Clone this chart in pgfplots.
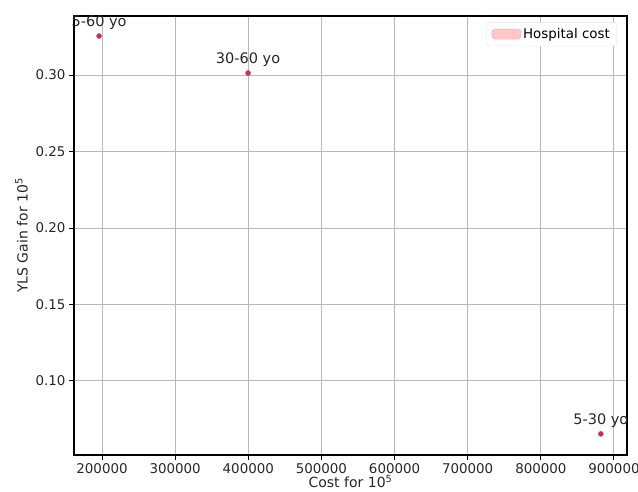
\documentclass[border=0pt]{standalone}
\usepackage{fontspec}
\setmainfont{DejaVu Sans}
\usepackage{pgfplots}
\pgfplotsset{compat=1.18}
\definecolor{ptcol}{RGB}{200,50,80}
\definecolor{gridc}{RGB}{184,184,184}
\begin{document}
\begin{tikzpicture}[font=\fontsize{13.4bp}{16bp}\selectfont]
\begin{axis}[
  at={(0,0)}, anchor=south west,
  scale only axis, width=553bp, height=439bp,
  xmin=161700, xmax=917800, ymin=0.0516, ymax=0.3386,
  xtick={200000,300000,400000,500000,600000,700000,800000,900000},
  ytick={0.10,0.15,0.20,0.25,0.30},
  scaled x ticks=false, scaled y ticks=false,
  xticklabels={200000,300000,400000,500000,600000,700000,800000,900000},
  yticklabels={0.10,0.15,0.20,0.25,0.30},
  tick label style={font=\fontsize{13.4bp}{16bp}\selectfont, text=black!85},
  label style={font=\fontsize{14bp}{16bp}\selectfont, text=black!85},
  xlabel={Cost for 10\textsuperscript{5}},
  ylabel={YLS Gain for 10\textsuperscript{5}},
  xlabel style={yshift=5bp},
  ylabel style={yshift=1bp},
  grid=major,
  major grid style={gridc, line width=1bp},
  axis line style={black, line width=1.4bp},
  tick align=outside, xtick pos=bottom, ytick pos=left,
  major tick length=5bp,
  tick style={black, line width=1bp},
  legend style={at={(0.982,0.986)}, anchor=north east, draw=black!12, rounded corners=3bp,
    fill=white, font=\fontsize{13.4bp}{16bp}\selectfont, inner xsep=5bp, inner ysep=4bp,
    /tikz/every even column/.append style={column sep=5bp}},
  legend cell align=left,
  legend image code/.code={\draw[#1] (0bp,-5bp) rectangle (29bp,5bp);},
]
\addlegendimage{fill=red!22, draw=red!32}
\addlegendentry{Hospital cost}
\addplot[only marks, mark=*, mark size=2.5bp, color=ptcol,
  nodes near coords, point meta=explicit symbolic,
  every node near coord/.append style={anchor=south, yshift=3bp, text=black!85,
    font=\fontsize{14.5bp}{16bp}\selectfont}]
  table[meta=lab, col sep=comma] {
x,y,lab
196000,0.3255,5-60 yo
399700,0.3013,30-60 yo
882000,0.0654,5-30 yo
};
\end{axis}
\pgfresetboundingbox
\path (-74bp,-37bp) rectangle (564bp,455bp);
\end{tikzpicture}
\end{document}
